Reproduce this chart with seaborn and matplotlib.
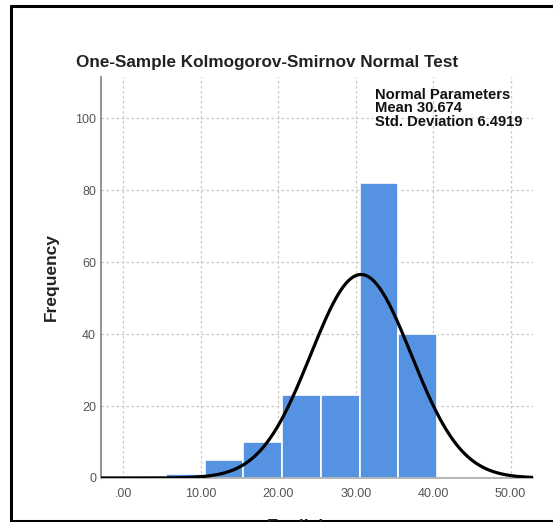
import numpy as np
import seaborn as sns
import matplotlib
matplotlib.use("Agg")
from matplotlib import pyplot as plt
from matplotlib.lines import Line2D

# histogram of English scores (SPSS bins of width 5, offset by .5)
bin_edges = [5.5, 10.5, 15.5, 20.5, 25.5, 30.5, 35.5, 40.5]
bin_centers = [8, 13, 18, 23, 28, 33, 38]
counts = [1, 5, 10, 23, 23, 82, 40]

# normal parameters printed on the chart
mean = 30.674
sd = 6.4919

xticks = [0, 10, 20, 30, 40, 50]
xtick_labels = ['.00', '10.00', '20.00', '30.00', '40.00', '50.00']
yticks = [0, 20, 40, 60, 80, 100]

sns.set_style("white")
plt.rcParams['font.family'] = ['Liberation Sans', 'DejaVu Sans']

fig = plt.figure(figsize=(5.53, 5.22), dpi=100)
ax = fig.add_axes([0.1826, 0.0843, 0.7814, 0.7682])

bar_color = '#5592e2'
sns.histplot(x=bin_centers, weights=counts, bins=bin_edges, ax=ax,
             color=bar_color, alpha=1, edgecolor='white', linewidth=1.2,
             zorder=2)

# fitted normal curve, scaled to counts
xmin, xmax = -2.9, 52.9
xs = np.linspace(xmin, xmax, 400)
n = sum(counts)
width = bin_edges[1] - bin_edges[0]
ys = n * width * np.exp(-0.5 * ((xs - mean) / sd) ** 2) / (sd * np.sqrt(2 * np.pi))
sns.lineplot(x=xs, y=ys, ax=ax, color='black', linewidth=2.3, zorder=4)

ax.set_xlim(xmin, xmax)
ax.set_ylim(0, 111.4)
ax.set_xticks(xticks)
ax.set_xticklabels(xtick_labels)
ax.set_yticks(yticks)
ax.tick_params(length=0, labelsize=9, labelcolor='#555555')
ax.tick_params(axis='x', pad=7.5)
ax.tick_params(axis='y', pad=3.5)
ax.grid(True, color='#c8c8c8', linestyle=(0, (2, 2)), linewidth=0.9, zorder=0)
ax.set_axisbelow(True)
for side in ['top', 'right']:
    ax.spines[side].set_visible(False)
ax.spines['left'].set_color('#8a8a8a')
ax.spines['left'].set_linewidth(1.3)
ax.spines['bottom'].set_color('#b0b0b0')
ax.spines['bottom'].set_linewidth(1.3)
ax.set_xlabel('')
ax.set_ylabel('Frequency', fontsize=12.5, fontweight='bold', color='#222222',
              labelpad=12)

fig.text(0.483, 0.881, 'One-Sample Kolmogorov-Smirnov Normal Test',
         ha='center', va='center', fontsize=12.3, fontweight='bold',
         color='#222222')
fig.text(0.678, 0.831, 'Normal Parameters\nMean 30.674\nStd. Deviation 6.4919',
         ha='left', va='top', fontsize=10.6, fontweight='bold', color='#111111',
         linespacing=0.93)

# x label, cut off by the bottom of the screenshot
fig.text(0.54, 1 - 518.5 / 522, 'English', ha='center', va='top',
         fontsize=12.5, fontweight='bold', color='#222222')

# black frame of the screenshot (left, top, bottom)
fl, ft, fb = 11 / 553, 1 - 6 / 522, 1 - 520.5 / 522
for xd, yd in [([fl, fl], [fb, ft]), ([fl, 1.0], [ft, ft]), ([fl, 1.0], [fb, fb])]:
    fig.add_artist(Line2D(xd, yd, color='black', linewidth=2.2,
                          transform=fig.transFigure))

fig.savefig('out.png', dpi=100)
